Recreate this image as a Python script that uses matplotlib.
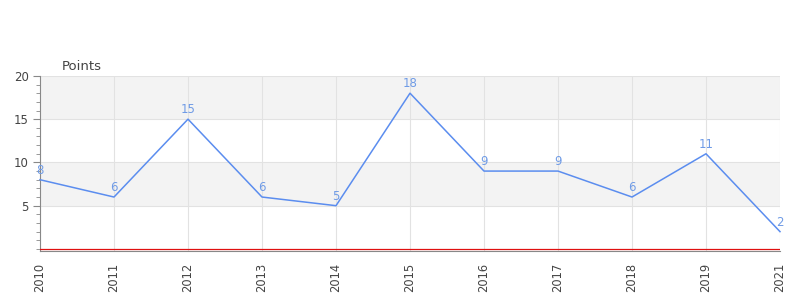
import matplotlib
matplotlib.use("Agg")
import matplotlib.pyplot as plt
from matplotlib.ticker import MultipleLocator

categories = ["2010", "2011", "2012", "2013", "2014", "2015", "2016", "2017", "2018", "2019", "2021"]
points = [8, 6, 15, 6, 5, 18, 9, 9, 6, 11, 2]
y_ticks = [5, 10, 15, 20]
y_label = "Points"

fig = plt.figure(figsize=(8, 3), dpi=100)
ax = fig.add_axes([0.05, 0.165, 0.925, 0.582])

x = list(range(len(categories)))
ax.set_xlim(0, len(categories) - 1)
ax.set_ylim(-0.18, 20)

# alternating bands
for lo, hi in [(5, 10), (15, 20)]:
    ax.axhspan(lo, hi, color="#f3f3f3", zorder=0, lw=0)

ax.set_xticks(x)
ax.set_xticklabels(categories, rotation=90, fontsize=8.3, color="#444444")
ax.set_yticks(y_ticks)
ax.set_yticklabels([str(v) for v in y_ticks], fontsize=8.5, color="#444444")
ax.yaxis.set_minor_locator(MultipleLocator(1))

ax.grid(True, color="#e2e2e2", lw=0.8, zorder=1)
ax.set_axisbelow(True)

ax.tick_params(axis="x", length=0, pad=9)
ax.tick_params(axis="y", which="major", length=5, color="#888888", pad=3)
ax.tick_params(axis="y", which="minor", length=3, color="#888888")

for s in ["top", "right"]:
    ax.spines[s].set_visible(False)
ax.spines["left"].set_color("#888888")
ax.spines["bottom"].set_color("#888888")
ax.spines["bottom"].set_linewidth(0.8)

ax.axhline(0, color="#e01010", lw=0.9, zorder=3)

ax.plot(x, points, color="#5b8def", lw=1.1, zorder=4, clip_on=False)
for xi, v in zip(x, points):
    ax.annotate(str(v), (xi, v), xytext=(0, 2), textcoords="offset points",
                ha="center", va="bottom", fontsize=8.5, color="#6f9be6", zorder=5,
                annotation_clip=False)

fig.text(62 / 800, 1 - 66 / 300, y_label, fontsize=9.5, color="#444444", ha="left", va="center")

fig.savefig("out.png", dpi=100)
